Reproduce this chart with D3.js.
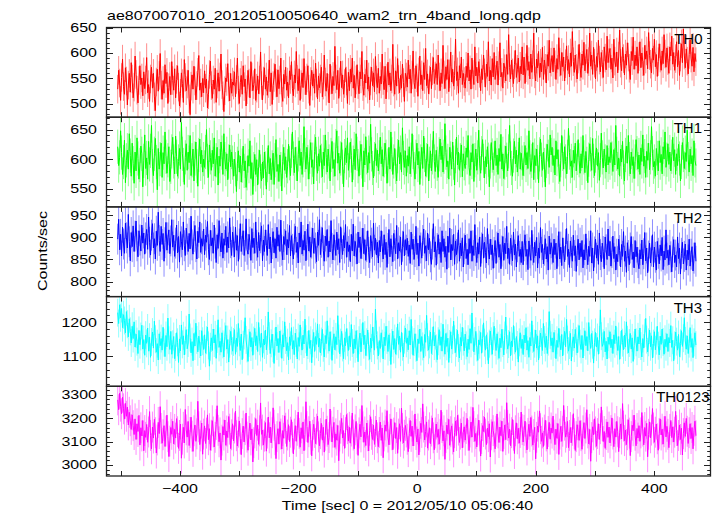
<!DOCTYPE html>
<html><head><meta charset="utf-8">
<script src="https://cdn.jsdelivr.net/npm/d3@7"></script>
<style>body{margin:0;background:#fff} svg{display:block} text{font-family:"Liberation Sans",Arial,Helvetica,sans-serif;fill:#000}</style>
</head><body><svg id="c" width="717" height="516"></svg>
<script>
const titleText = "ae807007010_20120510050640_wam2_trn_4band_long.qdp";
const xLabelText = "Time [sec] 0 = 2012/05/10 05:06:40";
const yLabelText = "Counts/sec";
const seriesNames = ["TH0","TH1","TH2","TH3","TH0123"];
const tStart = -505, tEnd = 470;
const xTickValues = [-500,-400,-300,-200,-100,0,100,200,300,400];
const xTickLabels = [-400,-200,0,200,400];
const yDomains = [[474,650],[519,671],[766,969],[1012,1275],[2953,3336]];
const yMajorStep = [50,50,50,100,100];
const yMinorStep = [10,10,10,20,20];
const seriesErrors = [28,29,35,41,66];

const th0 = [
529,566,541,507,552,588,534,519,571,545,498,537,560,523,581,549,512,533,594,558,527,502,546,575,538,551,516,563,530,547,
591,522,538,505,549,572,531,560,514,487,543,568,525,556,599,537,509,546,521,577,540,562,501,532,554,518,583,546,527,569,
512,548,575,533,496,521,561,540,503,587,552,526,539,566,510,479,535,557,529,574,545,508,536,562,595,527,541,514,550,522,
565,531,549,492,518,558,584,536,511,547,529,570,503,539,561,525,553,598,538,516,485,526,551,544,579,533,506,560,521,543,
537,563,514,548,590,527,501,542,556,519,575,534,549,496,528,566,541,512,583,553,526,538,569,507,531,555,520,547,602,536,
508,545,571,529,553,517,540,586,524,561,499,536,552,578,541,514,567,530,547,590,522,505,558,539,572,527,543,512,565,548,
583,530,516,557,541,603,548,526,569,507,538,561,532,589,546,518,551,575,529,497,544,566,535,559,521,580,541,510,555,532,
549,572,514,537,596,543,525,560,531,502,578,547,520,554,536,613,549,528,566,511,543,584,532,557,519,540,571,545,501,562,
526,568,543,590,531,556,512,547,577,538,520,563,549,603,534,517,558,541,586,529,553,508,545,572,536,561,524,593,547,532,
570,521,554,539,598,546,528,574,510,551,582,537,561,526,549,617,543,519,565,535,589,548,522,556,531,578,542,505,560,553,
533,586,549,568,521,557,604,542,530,575,551,515,563,594,538,557,526,581,548,609,536,559,520,547,572,530,565,591,540,555,
579,538,596,553,526,561,540,615,557,530,573,548,587,524,559,602,543,568,535,556,627,546,563,521,575,551,592,538,560,544,
531,574,552,600,545,567,529,590,558,538,612,555,572,541,583,560,526,569,548,596,561,533,578,554,622,545,566,537,589,553,
601,548,566,584,537,575,620,553,562,531,580,569,545,597,558,636,571,549,586,561,540,577,605,552,568,590,543,574,559,612,
557,592,540,571,615,566,583,549,598,562,577,639,559,545,588,571,603,552,580,563,611,548,586,570,541,597,574,625,561,582,
595,563,610,577,548,589,568,630,582,556,601,573,592,545,579,614,566,587,553,600,574,642,583,562,596,570,549,588,617,573,
552,598,576,621,565,589,607,560,583,639,574,596,558,611,580,549,593,572,625,586,563,601,578,552,612,590,567,633,581,599,
609,568,590,551,627,584,573,602,561,594,645,580,565,611,589,557,598,576,620,592,570,548,603,585,631,568,596,575,612,560,
593,622,571,600,583,556,615,588,604,569,640,595,578,561,609,586,627,573,597,554,583,618,590,566,604,579,636,598,572,610,
585,560,612,594,633,578,601,566,589,622,573,605,556,592,618,581,647,596,571,608,584,559,597,626,590,574,611,563,599,583];

const th1 = [
621,589,603,648,611,574,595,632,560,598,615,583,643,606,571,627,593,559,612,580,636,601,566,590,622,609,553,597,641,584,
602,566,630,591,614,657,588,572,609,635,595,548,618,583,600,627,569,611,592,646,604,576,598,621,562,587,613,637,596,575,
639,604,571,596,618,583,662,609,590,557,603,626,581,612,594,640,572,598,617,563,601,629,588,554,607,634,592,615,578,600,
586,612,650,597,569,624,603,581,615,592,636,571,598,620,556,605,588,629,611,574,643,600,583,609,565,596,624,587,612,594,
571,600,583,545,592,614,578,605,561,589,622,580,597,552,576,606,588,631,567,594,540,583,608,574,599,556,587,615,579,563,
595,568,612,584,549,590,623,575,601,565,586,610,557,598,633,579,591,562,607,583,546,596,620,581,604,569,588,625,593,572,
614,646,601,577,620,592,563,608,631,589,612,574,598,655,607,583,620,595,566,604,628,586,599,558,613,637,592,576,609,588,
623,597,570,612,589,641,603,578,617,596,563,607,630,584,599,571,622,648,593,610,576,601,628,587,553,605,619,594,636,581,
598,629,606,561,594,617,582,643,609,588,571,602,625,596,553,614,590,638,603,577,611,593,659,608,585,568,600,626,589,615,
580,603,637,592,616,571,598,627,604,559,589,620,583,646,608,574,596,618,587,563,605,632,592,611,578,653,602,586,614,571,
606,588,621,575,599,643,612,583,566,604,627,590,613,557,596,620,584,639,607,571,598,625,563,592,614,580,603,647,596,579,
615,592,569,608,634,599,622,578,604,660,611,587,597,566,620,601,583,629,594,556,605,637,590,612,581,598,624,570,609,593,
584,619,603,640,586,572,611,595,626,562,598,617,581,603,649,592,576,610,633,597,568,604,587,621,599,553,596,628,606,582,
601,631,589,607,574,618,596,642,583,609,567,594,622,599,580,613,657,601,585,571,606,630,592,615,578,600,636,583,610,594,
572,600,623,590,611,584,648,603,579,597,628,565,606,589,617,595,560,608,634,599,581,612,590,553,597,625,604,586,641,607,
620,589,606,573,631,600,616,587,562,598,640,609,583,621,596,575,604,652,611,588,597,569,615,593,627,580,602,633,598,576,
609,585,640,603,577,613,592,560,599,626,608,581,635,597,572,606,619,588,611,564,598,644,603,585,617,596,578,623,590,604,
594,628,601,579,616,590,657,609,583,602,571,617,595,630,586,563,607,622,593,640,600,575,612,589,604,567,596,633,610,583,
607,574,619,596,641,588,605,569,613,598,627,582,603,655,610,587,596,571,618,602,580,631,594,608,575,621,600,646,586,599,
626,591,612,580,604,637,597,616,574,609,589,625,601,563,595,628,607,584,611,596,649,600,578,617,592,606,572,631,598,589];

const th2 = [
896,941,872,907,858,923,885,864,932,899,876,952,890,847,911,879,926,868,903,937,881,856,915,894,869,928,887,910,862,899,
918,873,946,889,860,905,931,876,897,851,914,882,957,893,868,925,884,909,846,888,934,871,899,917,863,892,940,878,905,857,
887,928,865,902,844,913,890,872,935,881,859,921,896,868,909,874,948,883,862,902,927,879,851,914,888,935,866,897,880,919,
861,905,889,936,872,850,916,881,899,864,928,887,843,906,875,938,892,867,910,853,897,882,925,866,901,876,944,888,859,912,
890,856,923,871,904,846,885,931,868,896,915,859,880,942,873,862,907,889,848,920,877,898,864,935,882,855,911,870,899,926,
847,894,868,917,882,859,929,874,901,842,886,913,865,897,853,923,880,906,868,939,871,849,902,884,915,861,895,876,927,858,
904,873,851,896,925,866,889,842,910,878,935,862,893,871,914,847,884,930,869,901,855,887,921,864,898,876,845,912,882,940,
861,889,922,870,846,903,881,918,855,892,867,938,875,849,906,883,859,912,872,897,843,924,886,861,904,876,929,855,890,868,
883,845,907,869,930,858,891,874,840,912,877,901,852,886,921,863,895,848,879,915,866,843,904,887,856,932,871,898,860,889,
842,893,867,915,879,851,906,861,889,832,875,918,856,897,870,845,909,882,863,927,851,888,869,901,838,880,913,858,895,871,
898,857,883,841,912,873,896,850,868,925,861,887,835,904,876,853,893,919,864,881,847,910,872,898,856,839,885,931,867,890,
837,875,906,862,889,843,915,868,897,855,880,828,903,866,921,849,884,870,907,839,892,861,876,917,846,887,858,899,833,874,
905,852,873,838,897,864,915,846,881,859,929,870,843,888,862,901,834,876,908,853,889,866,842,920,872,851,896,861,883,830,
866,893,841,878,910,855,884,829,869,902,848,887,863,925,852,876,839,898,871,847,912,860,885,833,879,904,857,873,843,891,
838,881,906,857,873,827,892,865,848,916,872,843,889,858,900,831,876,853,922,866,884,840,871,897,851,879,826,903,862,888,
874,843,896,861,887,829,869,913,851,878,836,899,864,845,884,920,857,873,832,892,866,846,905,859,881,823,870,896,849,887,
856,893,831,872,849,908,863,838,880,857,915,842,876,824,867,896,853,882,839,910,861,845,887,868,829,901,872,850,919,858,
891,835,866,903,852,879,826,862,845,896,870,833,884,857,913,846,869,821,888,859,838,876,902,850,867,831,893,856,878,843,
829,872,851,894,838,863,911,847,876,820,858,887,842,869,906,833,878,855,826,891,864,840,883,858,900,827,869,849,917,853,
871,838,882,856,822,867,895,843,860,833,901,852,876,817,864,889,840,857,885,826,871,849,896,835,862,879,824,853,888,846];

const th3 = [
1228,1196,1251,1213,1240,1184,1222,1205,1169,1231,1194,1157,1210,1173,1139,1188,1152,1201,1127,1165,1143,1108,1176,1134,1158,1191,1121,1149,1103,1162,
1138,1183,1115,1156,1097,1142,1171,1124,1203,1150,1112,1137,1089,1166,1131,1152,1118,1185,1140,1099,1161,1128,1212,1147,1120,1173,1106,1135,1158,1093,
1127,1169,1141,1082,1151,1116,1192,1135,1160,1104,1146,1178,1122,1139,1224,1155,1110,1143,1087,1167,1130,1197,1148,1113,1159,1136,1101,1175,1144,1120,
1163,1109,1147,1186,1132,1071,1128,1154,1117,1180,1139,1163,1094,1151,1207,1126,1144,1112,1169,1135,1098,1158,1190,1121,1149,1083,1137,1173,1146,1115,
1142,1178,1106,1153,1129,1196,1141,1117,1165,1090,1134,1161,1213,1148,1123,1085,1139,1172,1127,1155,1103,1146,1182,1131,1160,1114,1199,1144,1126,1168,
1097,1150,1133,1177,1119,1145,1230,1159,1108,1138,1165,1124,1079,1143,1186,1130,1152,1111,1174,1137,1094,1163,1127,1201,1148,1116,1140,1089,1157,1132,
1184,1121,1146,1105,1168,1139,1092,1155,1129,1192,1144,1118,1162,1136,1209,1150,1101,1133,1176,1123,1147,1081,1138,1170,1114,1158,1135,1195,1127,1153,
1110,1143,1179,1125,1098,1161,1137,1204,1149,1115,1172,1132,1088,1145,1166,1119,1157,1134,1219,1152,1107,1140,1173,1126,1093,1154,1131,1181,1141,1117,
1160,1128,1193,1139,1108,1151,1122,1175,1136,1084,1147,1168,1113,1155,1199,1134,1162,1102,1141,1177,1129,1091,1153,1124,1186,1145,1118,1238,1164,1132,
1101,1146,1123,1169,1137,1092,1156,1131,1188,1148,1114,1163,1127,1076,1139,1174,1120,1152,1106,1144,1195,1135,1159,1112,1170,1128,1098,1149,1183,1138,
1154,1119,1175,1133,1208,1147,1103,1142,1166,1125,1087,1151,1137,1180,1114,1158,1129,1096,1164,1141,1220,1156,1118,1135,1171,1108,1145,1187,1130,1161,
1123,1090,1144,1178,1132,1157,1115,1194,1140,1106,1167,1129,1153,1082,1136,1172,1121,1147,1203,1150,1111,1139,1176,1124,1095,1155,1130,1185,1143,1116,
1165,1132,1099,1150,1120,1181,1138,1227,1157,1113,1145,1173,1126,1088,1148,1134,1170,1109,1152,1198,1140,1118,1163,1129,1078,1137,1174,1144,1106,1159,
1188,1142,1117,1166,1131,1094,1153,1125,1179,1139,1104,1161,1215,1149,1121,1136,1172,1101,1145,1128,1190,1147,1112,1158,1133,1083,1141,1169,1123,1150,
1105,1162,1139,1184,1118,1146,1097,1155,1130,1204,1151,1114,1137,1177,1124,1160,1089,1135,1168,1142,1117,1196,1148,1126,1159,1108,1143,1231,1163,1131,
1154,1112,1170,1136,1093,1147,1126,1182,1140,1119,1164,1101,1145,1173,1128,1208,1149,1115,1133,1167,1086,1139,1157,1124,1179,1144,1110,1152,1190,1137,
1120,1161,1095,1142,1175,1131,1158,1116,1199,1146,1123,1167,1134,1080,1141,1170,1127,1155,1106,1148,1236,1159,1129,1138,1173,1113,1144,1092,1156,1135,
1172,1125,1150,1108,1163,1137,1189,1144,1117,1158,1091,1133,1176,1140,1119,1162,1127,1201,1148,1110,1139,1167,1121,1154,1085,1132,1180,1141,1115,1157,
1136,1183,1130,1098,1152,1124,1168,1211,1149,1113,1141,1177,1128,1160,1095,1137,1172,1119,1146,1188,1131,1104,1159,1135,1180,1142,1106,1150,1128,1166,
1114,1155,1139,1190,1126,1147,1087,1132,1171,1143,1118,1164,1099,1138,1175,1129,1153,1213,1145,1121,1160,1108,1137,1184,1126,1152,1096,1141,1169,1133];

const th0123 = [
3278,3236,3306,3251,3219,3289,3240,3196,3263,3208,3247,3171,3225,3189,3152,3214,3168,3130,3197,3109,3176,3143,3212,3085,3159,3124,3190,3061,3147,3118,
3173,3097,3141,3228,3126,3069,3162,3115,3195,3138,3051,3107,3182,3134,3249,3156,3093,3129,3168,3079,3145,3213,3121,3036,3102,3160,3131,3187,3090,3152,
3115,3198,3142,3071,3126,3175,3029,3110,3161,3094,3237,3150,3119,3186,3083,3139,3204,3123,3058,3146,3171,3101,3133,3272,3163,3087,3124,3179,3046,3132,
3167,3092,3136,3214,3108,3155,3063,3127,3189,3141,3077,3118,3173,3253,3148,3099,3137,3021,3106,3164,3128,3192,3084,3145,3117,3207,3153,3070,3129,3176,
3103,3158,3230,3125,3081,3140,3188,3112,3044,3134,3166,3098,3151,3222,3119,3063,3143,3179,3107,3154,3013,3095,3137,3198,3126,3170,3088,3146,3265,3131,
3149,3085,3123,3181,3059,3136,3205,3116,3162,3094,3138,3244,3170,3108,3027,3121,3155,3089,3185,3132,3068,3147,3114,3210,3157,3079,3128,3172,3100,3140,
3193,3118,3047,3132,3168,3101,3148,3226,3135,3076,3159,3113,3184,3061,3129,3270,3164,3096,3142,3187,3110,3039,3127,3174,3139,3091,3153,3209,3120,3082,
3134,3178,3106,3161,3055,3127,3196,3144,3087,3117,3239,3166,3098,3140,3182,3075,3133,3106,3169,3018,3124,3157,3199,3115,3147,3071,3138,3215,3155,3102,
3161,3093,3145,3222,3128,3069,3150,3186,3112,3041,3137,3174,3120,3254,3163,3097,3141,3083,3179,3125,3060,3148,3206,3131,3109,3170,3088,3143,3192,3116,
3078,3139,3183,3105,3158,3031,3124,3171,3144,3232,3119,3086,3152,3197,3129,3065,3136,3181,3113,3160,3050,3132,3176,3101,3243,3156,3094,3127,3169,3141,
3110,3057,3135,3190,3122,3166,3081,3147,3218,3130,3098,3154,3043,3121,3178,3139,3261,3162,3107,3143,3184,3072,3128,3159,3091,3145,3201,3116,3065,3137,
3175,3118,3152,3089,3131,3234,3160,3103,3146,3024,3117,3170,3133,3195,3084,3142,3167,3111,3056,3138,3188,3126,3212,3149,3096,3132,3179,3073,3140,3163,
3106,3156,3199,3127,3062,3141,3183,3119,3246,3164,3101,3135,3077,3150,3192,3124,3038,3113,3168,3143,3205,3132,3087,3158,3121,3176,3034,3129,3185,3147,
3120,3069,3144,3218,3137,3096,3162,3125,3187,3058,3134,3171,3108,3266,3169,3115,3153,3082,3138,3194,3127,3049,3146,3180,3112,3157,3093,3139,3226,3151,
3098,3148,3187,3116,3064,3135,3174,3122,3203,3145,3085,3130,3161,3026,3118,3166,3140,3231,3155,3101,3137,3079,3149,3191,3124,3068,3143,3182,3110,3158,
3136,3209,3128,3087,3153,3114,3177,3045,3132,3165,3101,3144,3254,3170,3119,3139,3186,3074,3126,3160,3095,3148,3219,3134,3062,3121,3172,3140,3105,3189,
3125,3067,3146,3181,3113,3158,3236,3137,3090,3152,3016,3117,3163,3129,3197,3141,3080,3134,3176,3109,3155,3248,3168,3100,3143,3071,3130,3184,3118,3162,
3094,3147,3201,3132,3078,3155,3119,3186,3142,3057,3138,3175,3111,3262,3166,3104,3149,3087,3129,3193,3136,3040,3121,3170,3146,3213,3127,3082,3156,3115,
3168,3101,3137,3224,3145,3086,3160,3123,3178,3035,3131,3184,3116,3149,3241,3158,3097,3140,3175,3112,3063,3135,3197,3128,3153,3089,3142,3208,3120,3165,
3131,3074,3152,3190,3117,3163,3098,3140,3229,3147,3083,3126,3171,3109,3157,3043,3134,3180,3122,3199,3144,3092,3138,3176,3113,3160,3069,3148,3187,3125];

const seriesValues = [th0, th1, th2, th3, th0123];

// ---- layout / style ----
const plotLeft = 106.5, plotRight = 710.5, plotTop = 27.5, panelH = 89.7;
const colors = ["#ff0000","#00ff00","#0000ff","#00ffff","#ff00ff"];
const nameRightX = [702.5, 702, 702, 702, 709.5];
const fontSize = 16, squash = 0.79;

const svg = d3.select("#c");
const x = d3.scaleLinear().domain([-523.9, 494.6]).range([plotLeft, plotRight]);

function label(parent, px, py, str, anchor, rot) {
  return parent.append("text")
    .attr("transform", `translate(${px},${py})` + (rot ? ` rotate(${rot})` : "") + ` scale(1,${squash})`)
    .attr("text-anchor", anchor).attr("font-size", fontSize).text(str);
}

seriesNames.forEach((name, i) => {
  const y0 = plotTop + i * panelH, y1 = y0 + panelH;
  const y = d3.scaleLinear().domain(yDomains[i]).range([y1, y0]);
  const vals = seriesValues[i];
  const err = seriesErrors[i];
  const step = (tEnd - tStart) / (vals.length - 1);
  const data = vals.map((v, k) => ({t: tStart + k * step, v}));
  const g = svg.append("g");
  const clipId = "clip" + i;
  svg.append("clipPath").attr("id", clipId).append("rect")
    .attr("x", plotLeft).attr("y", y0).attr("width", plotRight - plotLeft).attr("height", panelH);
  const dg = g.append("g").attr("clip-path", `url(#${clipId})`);
  dg.append("path")
    .attr("d", data.map(d => `M${x(d.t).toFixed(2)},${y(d.v - err).toFixed(2)}V${y(d.v + err).toFixed(2)}`).join(""))
    .attr("stroke", colors[i]).attr("stroke-opacity", 0.45).attr("stroke-width", 1).attr("fill", "none");
  dg.append("path").datum(data)
    .attr("d", d3.line().x(d => x(d.t)).y(d => y(d.v)))
    .attr("fill", "none").attr("stroke", colors[i]).attr("stroke-width", 1);

  const [dmin, dmax] = yDomains[i];
  const minorVals = d3.range(Math.ceil(dmin / yMinorStep[i]) * yMinorStep[i], dmax + 0.001, yMinorStep[i]);
  const majorVals = minorVals.filter(v => v % yMajorStep[i] === 0);
  const ax = g.append("g").attr("stroke", "#222").attr("stroke-width", 1);
  minorVals.forEach(v => {
    const len = (v % yMajorStep[i] === 0) ? 6.5 : 3.3;
    const yy = Math.round(y(v)) + 0.5;
    ax.append("line").attr("x1", plotLeft).attr("x2", plotLeft + len).attr("y1", yy).attr("y2", yy);
    ax.append("line").attr("x1", plotRight).attr("x2", plotRight - len).attr("y1", yy).attr("y2", yy);
  });
  xTickValues.forEach(t => {
    const xx = Math.round(x(t)) + 0.5;
    ax.append("line").attr("x1", xx).attr("x2", xx).attr("y1", y0).attr("y2", y0 + 5);
    ax.append("line").attr("x1", xx).attr("x2", xx).attr("y1", y1).attr("y2", y1 - 5);
  });
  majorVals.forEach(v => label(g, 97, y(v) + 4.5, v, "end"));
  g.append("text").attr("x", nameRightX[i]).attr("y", y0 + 16).attr("text-anchor", "end")
    .attr("font-size", 15).text(name);
  g.append("rect").attr("x", plotLeft).attr("y", y0).attr("width", plotRight - plotLeft).attr("height", panelH)
    .attr("fill", "none").attr("stroke", "#222").attr("stroke-width", 1.3);
});

const plotBottom = plotTop + seriesNames.length * panelH;
xTickLabels.forEach(t => label(svg, x(t), plotBottom + 16.5, t < 0 ? "\u2212" + Math.abs(t) : String(t), "middle"));
label(svg, 407.5, 510, xLabelText, "middle");
label(svg, 46.5, 251, yLabelText, "middle", -90);
label(svg, 107, 19.5, titleText, "start");
</script></body></html>
